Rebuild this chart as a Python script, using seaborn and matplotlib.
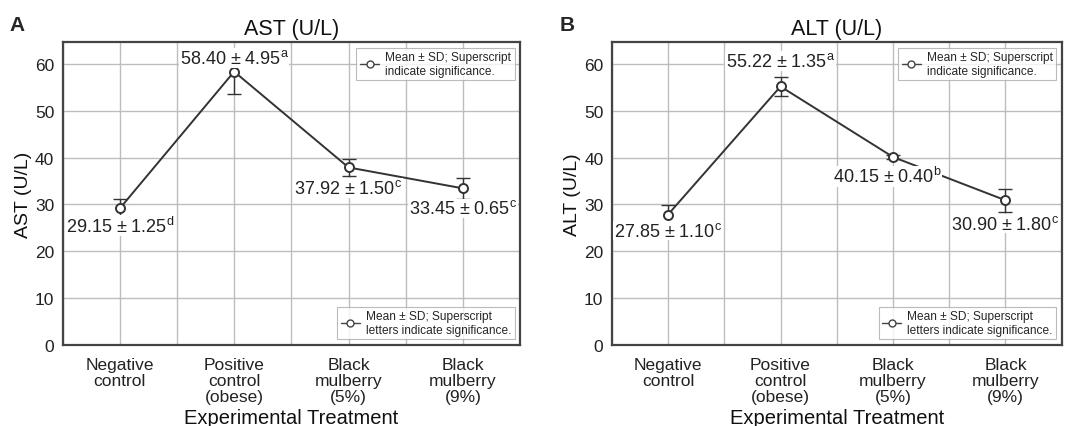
import numpy as np
import pandas as pd
import seaborn as sns
from matplotlib import pyplot as plt
from matplotlib.lines import Line2D
from matplotlib.ticker import MultipleLocator

sns.set_style('white')
plt.rcParams['font.family'] = ['Liberation Sans', 'DejaVu Sans']
plt.rcParams['mathtext.fontset'] = 'custom'
plt.rcParams['mathtext.rm'] = 'Liberation Sans'
plt.rcParams['mathtext.it'] = 'Liberation Sans'

treatments = ['Negative\ncontrol', 'Positive\ncontrol\n(obese)',
              'Black\nmulberry\n(5%)', 'Black\nmulberry\n(9%)']

ast_mean = [29.15, 58.40, 37.92, 33.45]
ast_sd_label = [1.25, 4.95, 1.50, 0.65]
ast_err = [2.0, 4.8, 1.8, 2.3]          # bar half-lengths as drawn
ast_sig = ['d', 'a', 'c', 'c']
ast_lab_y = [25.5, 61.3, 33.5, 29.2]     # where the value labels sit

alt_mean = [27.85, 55.22, 40.15, 30.90]
alt_sd_label = [1.10, 1.35, 0.40, 1.80]
alt_err = [2.1, 2.0, 0.5, 2.5]
alt_sig = ['c', 'a', 'b', 'c']
alt_lab_y = [24.4, 60.7, 36.0, 25.9]
alt_lab_dx = [0, 0, -0.05, 0]


def panel(ax, mean, err, sd, sig, lab_y, lab_dx, title, ylabel, letter):
    df = pd.DataFrame({'treat': treatments, 'val': mean})
    ax.errorbar(range(len(mean)), mean, yerr=err, fmt='none', ecolor='#333333',
                elinewidth=1.0, capsize=5, capthick=1.0, zorder=3)
    sns.pointplot(data=df, x='treat', y='val', ax=ax, color='#333333',
                  markers='o', markersize=6.5, linewidth=1.4, errorbar=None,
                  markerfacecolor='white', markeredgewidth=1.4, zorder=4)
    for i, (m, s, g, ly) in enumerate(zip(mean, sd, sig, lab_y)):
        ax.text(i + lab_dx[i], ly, f'{m:.2f} ± {s:.2f}$^{{{g}}}$', ha='center', va='center',
                fontsize=13, color='#222222', zorder=5,
                bbox=dict(facecolor='white', edgecolor='none', pad=0.5))
    ax.set_xlim(-0.5, 3.5)
    ax.set_ylim(0, 64.7)
    ax.yaxis.set_major_locator(MultipleLocator(10))
    ax.xaxis.set_minor_locator(MultipleLocator(0.5))
    ax.grid(True, which='both', axis='x', color='#bdbdbd', lw=1.0)
    ax.grid(True, which='major', axis='y', color='#bdbdbd', lw=1.0)
    ax.set_axisbelow(True)
    ax.tick_params(axis='both', which='both', length=0, labelsize=12.5,
                   labelcolor='#222222', pad=6)
    ax.tick_params(axis='x', pad=9)
    plt.setp(ax.get_xticklabels(), linespacing=1.05)
    for sp in ax.spines.values():
        sp.set_color('#444444')
        sp.set_linewidth(1.6)
    ax.set_title(title, fontsize=15.5, color='#111111', pad=6)
    ax.set_ylabel(ylabel, fontsize=14, color='#111111', labelpad=2)
    ax.set_xlabel('Experimental Treatment', fontsize=14.5, color='#111111', labelpad=3)

    h = Line2D([], [], color='#444444', marker='o', markerfacecolor='white',
               markersize=5, lw=1.0)
    leg1 = ax.legend([h], ['Mean ± SD; Superscript\nindicate significance.'],
                     loc='upper right', fontsize=8.6, frameon=True, fancybox=False,
                     edgecolor='#aaaaaa', handlelength=1.6, handletextpad=0.5,
                     borderaxespad=0.45, borderpad=0.3)
    leg1.get_frame().set_linewidth(0.8)
    ax.add_artist(leg1)
    leg2 = ax.legend([h], ['Mean ± SD; Superscript\nletters indicate significance.'],
                     loc='lower right', fontsize=8.6, frameon=True, fancybox=False,
                     edgecolor='#aaaaaa', handlelength=1.6, handletextpad=0.5,
                     borderaxespad=0.45, borderpad=0.3)
    leg2.get_frame().set_linewidth(0.8)
    ax.text(-0.115, 1.057, letter, transform=ax.transAxes, fontsize=15,
            fontweight='bold', ha='left', va='center')


fig = plt.figure(figsize=(10.79, 4.27), dpi=100)
ax1 = fig.add_axes([0.058, 0.19, 0.424, 0.709])
ax2 = fig.add_axes([0.567, 0.19, 0.417, 0.709])

panel(ax1, ast_mean, ast_err, ast_sd_label, ast_sig, ast_lab_y, [0, 0, 0, 0],
      'AST (U/L)', 'AST (U/L)', 'A')
panel(ax2, alt_mean, alt_err, alt_sd_label, alt_sig, alt_lab_y, alt_lab_dx,
      'ALT (U/L)', 'ALT (U/L)', 'B')

fig.savefig('out.png', dpi=100)
